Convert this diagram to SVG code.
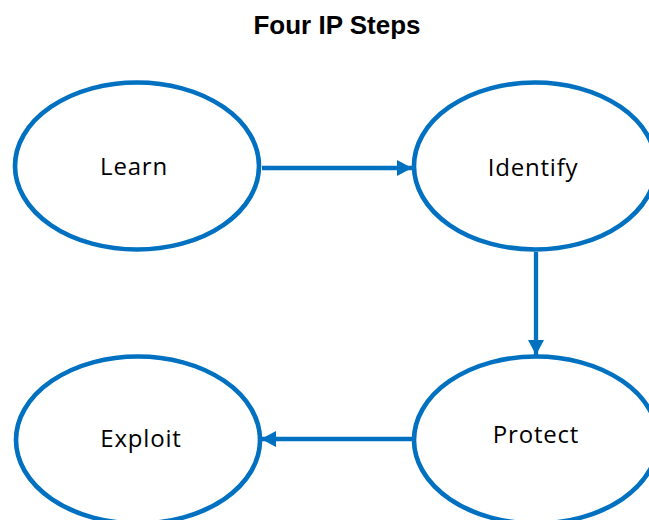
<svg xmlns="http://www.w3.org/2000/svg" width="649" height="520" viewBox="0 0 649 520">
<style>
.node ellipse{fill:#fff;stroke:#0070C0;stroke-width:4.6}
.node text{font-family:"Open Sans","Liberation Sans",sans-serif;font-size:24px;letter-spacing:0.8px;fill:#000;text-anchor:middle}
.title{font-family:"Liberation Sans",Arial,sans-serif;font-weight:bold;font-size:26px;fill:#000;text-anchor:middle}
.conn line{stroke:#0070C0;stroke-width:4.3}
</style>
<defs>
<marker id="ah" markerUnits="userSpaceOnUse" markerWidth="16" markerHeight="16" refX="15" refY="8" orient="auto" viewBox="0 0 16 16">
<path d="M0,0 L15,8 L0,16 Z" fill="#0070C0"/>
</marker>
</defs>
<rect width="649" height="520" fill="#fff"/>
<text class="title" x="337" y="34">Four IP Steps</text>
<g class="conn">
<line x1="262" y1="168" x2="412" y2="168" marker-end="url(#ah)"/>
<line x1="536" y1="252" x2="536" y2="355" marker-end="url(#ah)"/>
<line x1="412" y1="439" x2="261" y2="439" marker-end="url(#ah)"/>
</g>
<g id="learn" class="node"><ellipse cx="137" cy="166" rx="122" ry="83.5"/><text x="134" y="175">Learn</text></g>
<g id="identify" class="node"><ellipse cx="535" cy="166" rx="121" ry="83.5"/><text x="533" y="176">Identify</text></g>
<g id="protect" class="node"><ellipse cx="536" cy="440" rx="122" ry="83.5"/><text x="536" y="443">Protect</text></g>
<g id="exploit" class="node"><ellipse cx="138" cy="440" rx="122" ry="83.5"/><text x="141" y="447">Exploit</text></g>
</svg>
